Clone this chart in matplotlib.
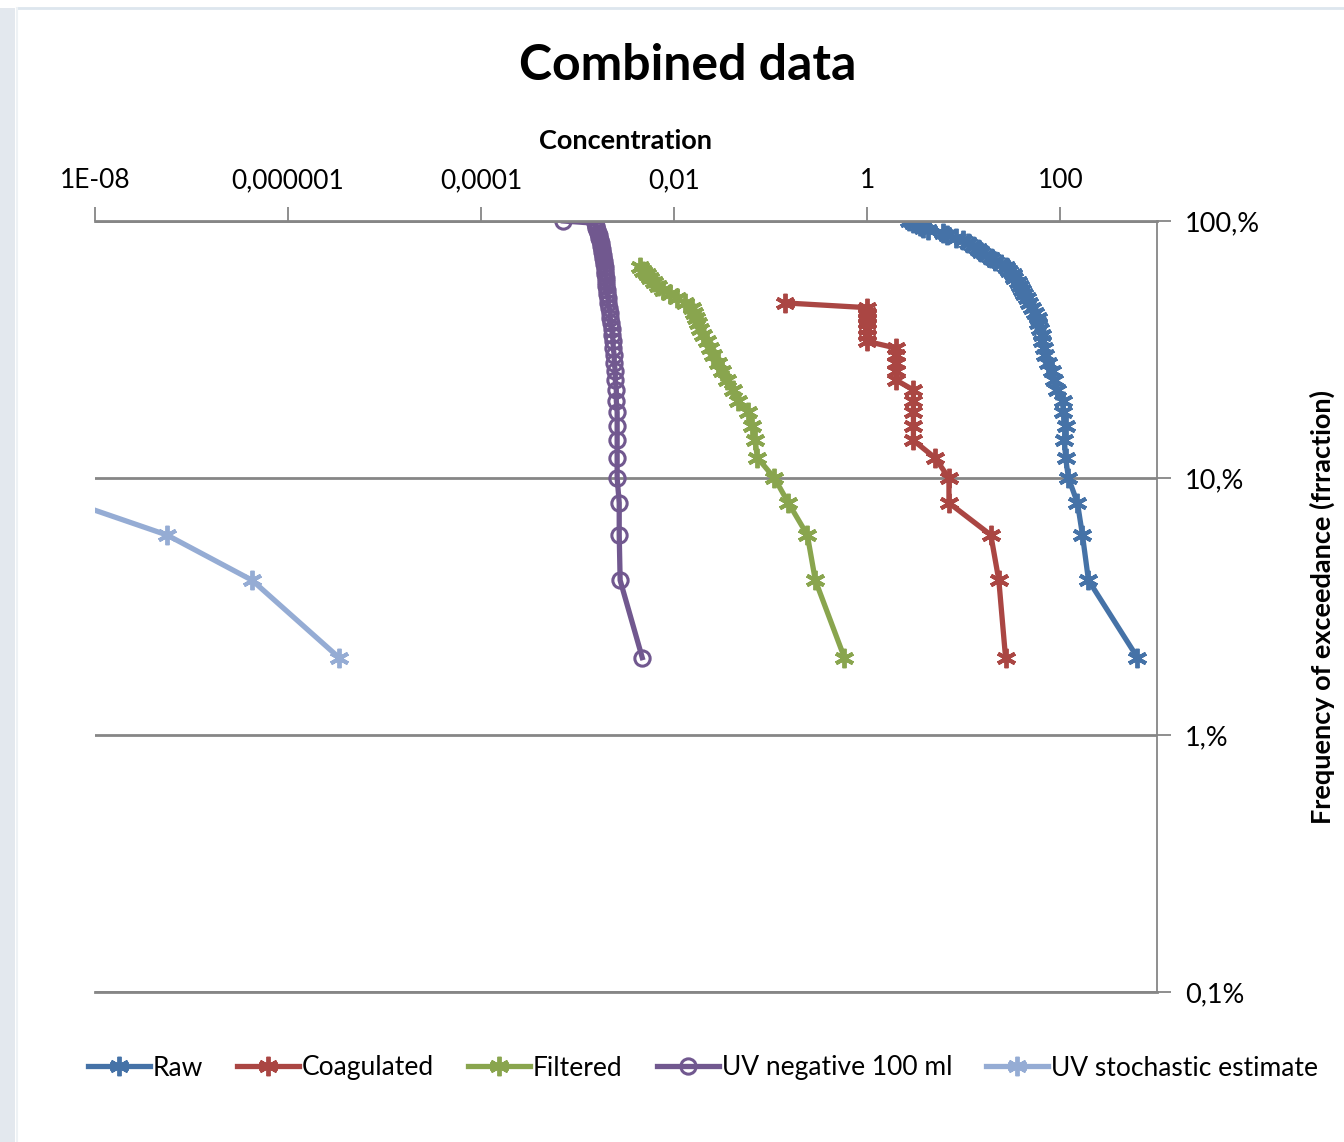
import numpy as np
import matplotlib.pyplot as plt
from matplotlib.ticker import FixedLocator, NullLocator
from matplotlib.patches import Rectangle

plt.rcParams['font.family'] = ['Lato', 'DejaVu Sans']

# exceedance frequencies (fraction) and concentrations
raw_freq = np.round(np.arange(1, 51) * 0.02, 2)
raw_conc = [628, 195, 169, 150, 121, 113, 110, 113, 107, 105,
            93, 85, 81, 75, 70, 67, 65, 65, 62, 59,
            58, 54, 51, 47, 45, 42, 40, 38, 36, 33,
            32, 29, 27, 24, 21, 19, 17, 15, 14, 12.5,
            11, 9.9, 8.2, 6.7, 6.1, 4.2, 3.8, 3.5, 3.0, 2.7]

coag_freq = np.round(np.arange(1, 25) * 0.02, 2)
coag_conc = [27, 23, 19, 7, 7, 5, 3, 3, 3, 3,
             3, 2, 2, 2, 2, 2, 1, 1, 1, 1,
             1, 1, 1, 0.14]

filt_freq = np.round(np.arange(1, 34) * 0.02, 2)
filt_conc = [0.578, 0.289, 0.239, 0.152, 0.109, 0.0724, 0.069, 0.0643, 0.0585, 0.046,
             0.0409, 0.0354, 0.0314, 0.0286, 0.0254, 0.0236, 0.022, 0.020, 0.0186, 0.0177,
             0.0169, 0.0161, 0.0154, 0.013, 0.0107, 0.0091, 0.0077, 0.0068, 0.0061, 0.0056,
             0.0052, 0.0048, 0.0044]

uv_freq = np.round(np.arange(1, 51) * 0.02, 2)
uv_conc = [0.00466, 0.00275, 0.00269, 0.00269, 0.00256, 0.00256, 0.00256, 0.00256, 0.00256, 0.00251,
           0.00251, 0.00245, 0.00245, 0.00239, 0.00239, 0.00233, 0.00233, 0.00228, 0.00228, 0.00222,
           0.00217, 0.00217, 0.00212, 0.00207, 0.00207, 0.00202, 0.00202, 0.00197, 0.00197, 0.00197,
           0.00193, 0.00193, 0.00193, 0.00188, 0.00188, 0.00184, 0.00184, 0.00179, 0.00179, 0.00175,
           0.00175, 0.00171, 0.00167, 0.00167, 0.00163, 0.00159, 0.00155, 0.00155, 0.00152, 0.00071]

stoch_freq = [0.02, 0.04, 0.06, 0.08]
stoch_conc = [3.37e-6, 4.24e-7, 5.57e-8, 6.0e-9]

x_ticks = [1e-8, 1e-6, 1e-4, 1e-2, 1, 100]
x_labels = ["1E-08", "0,000001", "0,0001", "0,01", "1", "100"]
y_ticks = [1, 0.1, 0.01, 0.001]
y_labels = ["100,%", "10,%", "1,%", "0,1%"]

fig = plt.figure(figsize=(13.44, 11.42), dpi=100)
ax = fig.add_axes([95/1344, 1 - 992/1142, (1157 - 95)/1344, (992 - 221)/1142])

# faint frame of the original chart area
fig.patches.append(Rectangle((0, 0), 15/1344, 1 - 8/1142, transform=fig.transFigure,
                             facecolor="#e3e8ee", edgecolor="none", zorder=-5))
fig.add_artist(plt.Line2D([17/1344, 1], [1 - 8/1142] * 2, color="#dde6ee", lw=2))
fig.add_artist(plt.Line2D([17/1344] * 2, [0, 1 - 8/1142], color="#eef2f5", lw=1.5))

star = (6, 2, 0)
kw = dict(lw=3.8, ms=14, mew=2.8)
ax.plot(raw_conc, raw_freq, color="#4572A7", marker=star, label="Raw", **kw)
ax.plot(coag_conc, coag_freq, color="#AA4643", marker=star, label="Coagulated", **kw)
ax.plot(filt_conc, filt_freq, color="#89A54E", marker=star, label="Filtered", **kw)
ax.plot(uv_conc, uv_freq, color="#71588F", lw=3.8, marker="o", ms=11, mfc="none", mew=2.2,
        label="UV negative 100 ml")
ax.plot(stoch_conc, stoch_freq, color="#95ACD4", marker=star, label="UV stochastic estimate", **kw)

ax.set_xscale("log")
ax.set_yscale("log")
ax.set_xlim(1e-8, 1e3)
ax.set_ylim(0.001, 1)

ax.xaxis.tick_top()
ax.xaxis.set_label_position("top")
ax.xaxis.set_major_locator(FixedLocator(x_ticks))
ax.xaxis.set_minor_locator(NullLocator())
ax.set_xticklabels(x_labels, fontsize=19)
ax.set_xlabel("Concentration", fontsize=19.5, fontweight="bold", labelpad=14)

ax.yaxis.tick_right()
ax.yaxis.set_label_position("right")
ax.yaxis.set_major_locator(FixedLocator(y_ticks))
ax.yaxis.set_minor_locator(NullLocator())
ax.set_yticklabels(y_labels, fontsize=19.5)
ax.set_ylabel("Frequency of exceedance (frraction)", fontsize=19.5, fontweight="bold", labelpad=36)

ax.tick_params(axis="both", direction="out", length=10, width=1.3, color="#868686", pad=10)
ax.grid(axis="y", color="#868686", lw=2)
ax.set_axisbelow(True)
for s in ["top", "right", "bottom"]:
    ax.spines[s].set_color("#868686")
ax.spines["top"].set_linewidth(2)
ax.spines["bottom"].set_linewidth(2)
ax.spines["right"].set_linewidth(1.3)
ax.spines["left"].set_visible(False)

fig.text(688/1344, 1 - 65/1142, "Combined data", ha="center", va="center",
         fontsize=36, fontweight="bold")

fig.legend(loc="center", bbox_to_anchor=(0.523, 1 - 1068/1142), ncol=5, frameon=False,
           fontsize=19, handlelength=2.35, columnspacing=1.3, handletextpad=0.1)

fig.savefig("out.png", dpi=100)
